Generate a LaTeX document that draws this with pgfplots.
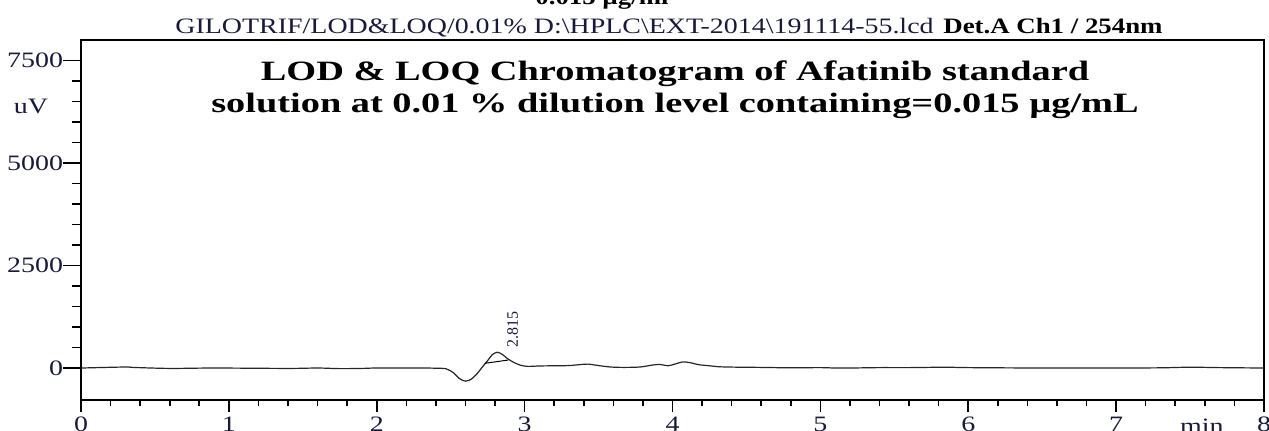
\documentclass[border=0pt]{standalone}
\usepackage{fontspec}
\setmainfont{Liberation Serif}[FakeStretch=1.27]
\newfontfamily\boldhead{Liberation Serif}[FakeStretch=1.22]
\newfontfamily\titlefont{Liberation Serif}[FakeStretch=1.37]
\newfontfamily\plainfont{Liberation Serif}
\usepackage{pgfplots}
\pgfplotsset{compat=1.18}
\definecolor{txt}{RGB}{25,25,60}
\begin{document}
\fontsize{11}{13}\selectfont
\begin{tikzpicture}
\useasboundingbox (-40.5pt,-15pt) rectangle (594pt,200pt);
\clip (-40.5pt,-15pt) rectangle (594pt,200pt);
\begin{axis}[
 at={(0,0)}, anchor=south west,
 scale only axis, width=591.5pt, height=180pt,
 xmin=0, xmax=8, ymin=-780, ymax=8000,
 xtick={0,...,8}, minor x tick num=4,
 ytick={0,2500,5000,7500}, minor y tick num=4,
 tick pos=left, tick align=outside,
 xtick style={/pgfplots/major tick length=6pt,/pgfplots/minor tick length=3pt, line width=0.8pt, black},
 ytick style={/pgfplots/major tick length=9pt,/pgfplots/minor tick length=4.5pt, line width=0.8pt, black},
 axis line style={line width=1pt},
 tick label style={font=\fontsize{11}{13}\selectfont, text=txt},
 /pgf/number format/assume math mode=true,
 /pgf/number format/1000 sep={},
 yticklabel style={inner sep=0pt, xshift=-4.5pt},
 xticklabel style={inner sep=1pt, yshift=-3pt},
 clip=false,
]
\addplot[black!85, line width=0.6pt, smooth, tension=0.5] coordinates {
(0,0) (0.3,25) (0.35,15) (0.6,-10) (0.9,0) (1.4,-10) (1.6,0) (1.75,-15) (1.9,-10) (2.0,0) (2.3,0) (2.4,-5) (2.47,-20) (2.52,-120) (2.56,-260) (2.60,-320) (2.64,-270) (2.68,-130) (2.72,50) (2.75,180) (2.78,320) (2.815,385) (2.85,330) (2.88,240) (2.92,150) (2.97,70) (3.02,40) (3.1,50) (3.2,55) (3.3,60) (3.38,85) (3.43,95) (3.5,60) (3.58,25) (3.67,15) (3.78,25) (3.87,75) (3.92,85) (3.97,55) (4.02,100) (4.07,150) (4.12,130) (4.18,80) (4.25,55) (4.32,30) (4.45,20) (4.6,15) (4.8,5) (5.0,10) (5.1,0) (5.2,0) (5.4,10) (5.6,10) (5.85,20) (6.0,10) (6.5,0) (7.0,0) (7.3,5) (7.5,20) (7.7,10) (8,0)
};
\addplot[black, line width=0.5pt] coordinates {(2.73,115) (2.89,195)};
\node[rotate=90, anchor=west, inner sep=0pt, text=txt, font=\plainfont\fontsize{8}{9}\selectfont] at (axis cs:2.92,500) {2.815};
\node[anchor=north, inner sep=0pt, text=txt] at (axis cs:7.58,-1230) {min};
\end{axis}
\node[anchor=base, inner sep=0pt, text=txt] at (-25pt,143.5pt) {uV};
\node[anchor=base west, inner sep=0pt, text=txt] at (47pt,183.5pt) {GILOTRIF/LOD\&LOQ/0.01\% D:\textbackslash HPLC\textbackslash EXT-2014\textbackslash 191114-55.lcd};
\node[anchor=base west, inner sep=0pt, font=\boldhead\bfseries] at (431pt,183.5pt) {Det.A Ch1 / 254nm};
\node[anchor=base, inner sep=0pt, font=\boldhead\bfseries] at (260.5pt,198pt) {0.015 µg/ml};
\node[anchor=base, inner sep=0pt, font=\titlefont\bfseries\fontsize{14}{16}\selectfont] at (297pt,160pt) {LOD \& LOQ Chromatogram of Afatinib standard};
\node[anchor=base, inner sep=0pt, font=\titlefont\bfseries\fontsize{14}{16}\selectfont] at (297pt,144pt) {solution at 0.01 \% dilution level containing=0.015 µg/mL};
\end{tikzpicture}
\end{document}
